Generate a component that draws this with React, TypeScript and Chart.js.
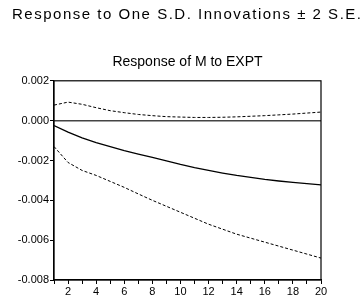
import React, { useEffect, useRef } from "react";
import { Chart, registerables } from "chart.js";

Chart.register(...registerables);

const periods = [1, 2, 3, 4, 5, 6, 7, 8, 9, 10, 11, 12, 13, 14, 15, 16, 17, 18, 19, 20];
const response = [-0.00025, -0.00058, -0.00086, -0.0011, -0.0013, -0.0015, -0.00168, -0.00185, -0.00202, -0.0022, -0.00236, -0.0025, -0.00263, -0.00275, -0.00285, -0.00295, -0.00303, -0.0031, -0.00316, -0.00322];
const upperBand = [0.00078, 0.00093, 0.00082, 0.00065, 0.0005, 0.0004, 0.00031, 0.00025, 0.0002, 0.00018, 0.00016, 0.00016, 0.00017, 0.00019, 0.00022, 0.00025, 0.00029, 0.00033, 0.00038, 0.00043];
const lowerBand = [-0.0013, -0.0021, -0.0025, -0.00275, -0.00305, -0.00335, -0.00368, -0.004, -0.0043, -0.0046, -0.0049, -0.0052, -0.00545, -0.0057, -0.0059, -0.0061, -0.0063, -0.0065, -0.0067, -0.0069];
const zeroLine = periods.map(() => 0);

const mainTitle = "Response to One S.D. Innovations \u00B1 2 S.E.";
const subTitle = "Response of M to EXPT";
const yTicks = [0.002, 0, -0.002, -0.004, -0.006, -0.008];

const FONT = 'Arial, "Liberation Sans", sans-serif';

const frame = {
  id: "frame",
  afterDatasetsDraw(chart: any) {
    const { ctx, chartArea } = chart;
    ctx.save();
    ctx.strokeStyle = "#000";
    ctx.lineWidth = 1.2;
    ctx.strokeRect(chartArea.left, chartArea.top, chartArea.right - chartArea.left, chartArea.bottom - chartArea.top);
    ctx.restore();
  },
};

const headline = {
  id: "headline",
  afterDraw(chart: any) {
    const { ctx } = chart;
    ctx.save();
    ctx.font = `15px ${FONT}`;
    ctx.fillStyle = "#000";
    ctx.textBaseline = "middle";
    ctx.textAlign = "left";
    const target = 349;
    const plain = ctx.measureText(mainTitle).width;
    const spacing = Math.max(0, (target - plain) / (mainTitle.length - 1));
    (ctx as any).letterSpacing = `${spacing}px`;
    ctx.fillText(mainTitle, 12, 15);
    ctx.restore();
  },
};

export default function App() {
  const ref = useRef<HTMLCanvasElement | null>(null);
  useEffect(() => {
    if (!ref.current) return;
    const pts = (arr: number[]) => periods.map((p, i) => ({ x: p, y: arr[i] }));
    const chart = new Chart(ref.current, {
      type: "line",
      data: {
        datasets: [
          { data: pts(zeroLine), borderColor: "#444", borderWidth: 1.5, pointRadius: 0, tension: 0 },
          { data: pts(upperBand), borderColor: "#000", borderWidth: 1, borderDash: [3, 2], pointRadius: 0, tension: 0 },
          { data: pts(lowerBand), borderColor: "#000", borderWidth: 1, borderDash: [3, 2], pointRadius: 0, tension: 0 },
          { data: pts(response), borderColor: "#000", borderWidth: 1.3, pointRadius: 0, tension: 0 },
        ],
      },
      options: {
        animation: false,
        responsive: false,
        devicePixelRatio: 1,
        layout: { padding: { left: 0, right: 42, top: 0, bottom: 0 } },
        plugins: {
          legend: { display: false },
          tooltip: { enabled: false },
          title: { display: false },
          subtitle: {
            display: true,
            text: subTitle,
            color: "#000",
            fullSize: false,
            font: { family: FONT, size: 14, weight: "normal" },
            padding: { top: 54, bottom: 10 },
          },
        },
        scales: {
          x: {
            type: "linear",
            min: 1,
            max: 20,
            afterFit: (s: any) => { s.height = 17; },
            afterBuildTicks: (s: any) => { s.ticks = periods.map((p) => ({ value: p })); },
            ticks: {
              autoSkip: false,
              maxRotation: 0,
              padding: 1,
              color: "#000",
              font: { family: FONT, size: 11 },
              callback: (v: any) => (Number(v) % 2 === 0 ? String(v) : ""),
            },
            grid: { drawOnChartArea: false, drawTicks: true, tickLength: 4, color: "#000" },
            border: { display: true, color: "#000", width: 1.2 },
          },
          y: {
            min: -0.008,
            max: 0.002,
            afterFit: (s: any) => { s.width = 54; },
            afterBuildTicks: (s: any) => { s.ticks = yTicks.map((v) => ({ value: v })); },
            ticks: {
              padding: 1,
              color: "#000",
              font: { family: FONT, size: 11 },
              callback: (v: any) => (Math.abs(Number(v)) < 1e-9 ? "0.000" : Number(v).toFixed(3)),
            },
            grid: { drawOnChartArea: false, drawTicks: true, tickLength: 4, color: "#000" },
            border: { display: true, color: "#000", width: 1.2 },
          },
        },
      },
      plugins: [frame, headline],
    });
    return () => chart.destroy();
  }, []);
  return (
    <div style={{ position: "fixed", left: 0, top: 0, width: 363, height: 297, background: "#fff" }}>
      <canvas ref={ref} width={363} height={297} style={{ width: 363, height: 297, display: "block" }} />
    </div>
  );
}
